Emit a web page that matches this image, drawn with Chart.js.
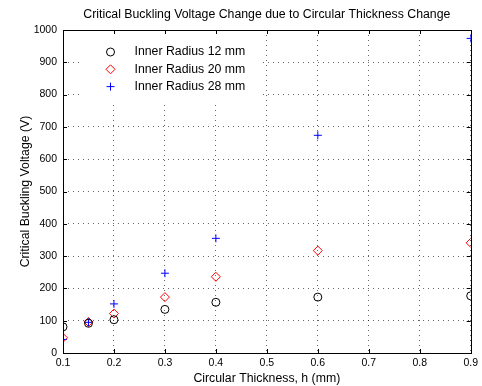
<!DOCTYPE html>
<html>
<head>
<meta charset="utf-8">
<script src="https://cdn.jsdelivr.net/npm/chart.js@4.4.0/dist/chart.umd.min.js"></script>
<style>
  html, body { margin: 0; padding: 0; background: #fff; }
  #wrap { width: 482px; height: 386px; }
</style>
</head>
<body>
<div id="wrap"><canvas id="buckling" width="482" height="386"></canvas></div>
<script>
// Data
const thickness = [0.1, 0.15, 0.2, 0.3, 0.4, 0.6, 0.9];
const radius12 = [81, 92, 103, 135, 157, 173, 177];
const radius20 = [47, 96, 122, 173, 236, 317, 341];
const radius28 = [42, 95, 152, 247, 355, 674, 974];
const seriesNames = ['Inner Radius 12 mm', 'Inner Radius 20 mm', 'Inner Radius 28 mm'];
const xTicks = [0.1, 0.2, 0.3, 0.4, 0.5, 0.6, 0.7, 0.8, 0.9];
const yTicks = [0, 100, 200, 300, 400, 500, 600, 700, 800, 900, 1000];
const chartTitle = 'Critical Buckling Voltage Change due to Circular Thickness Change';

const FONT = 'Liberation Sans, Arial, Helvetica, sans-serif';
const LABEL_SIZE = 12.3;
const TICK_SIZE = 10.5;
Chart.defaults.font.family = FONT;
Chart.defaults.font.size = TICK_SIZE;
Chart.defaults.color = '#000';

function toPoints(ys) {
    return thickness.map((x, i) => ({ x: x, y: ys[i] }));
}

// white background + title centred over the axes
const frame = {
    id: 'frame',
    beforeDraw(chart) {
        const c = chart.ctx;
        c.save();
        c.fillStyle = '#fff';
        c.fillRect(0, 0, chart.width, chart.height);
        c.restore();
    },
    afterDraw(chart) {
        const c = chart.ctx;
        const a = chart.chartArea;
        c.save();
        c.font = LABEL_SIZE + 'px ' + FONT;
        c.fillStyle = '#000';
        c.textAlign = 'center';
        c.textBaseline = 'middle';
        c.fillText(chartTitle, (a.left + a.right) / 2, 14.5);
        c.restore();
    }
};

// MATLAB-like box with inward ticks on all four sides
const axesBox = {
    id: 'axesBox',
    afterDatasetsDraw(chart) {
        const c = chart.ctx;
        const a = chart.chartArea;
        const xs = chart.scales.x, ys = chart.scales.y;
        const len = 4;
        c.save();
        c.strokeStyle = '#000';
        c.lineWidth = 1;
        c.beginPath();
        xTicks.forEach(v => {
            const px = Math.round(xs.getPixelForValue(v)) + 0.5;
            c.moveTo(px, a.bottom); c.lineTo(px, a.bottom - len);
            c.moveTo(px, a.top); c.lineTo(px, a.top + len);
        });
        yTicks.forEach(v => {
            const py = Math.round(ys.getPixelForValue(v)) + 0.5;
            c.moveTo(a.left, py); c.lineTo(a.left + len, py);
            c.moveTo(a.right, py); c.lineTo(a.right - len, py);
        });
        c.stroke();
        c.strokeRect(Math.round(a.left) + 0.5, Math.round(a.top) + 0.5,
            Math.round(a.right - a.left), Math.round(a.bottom - a.top));
        c.restore();
    }
};

// legend inside the axes, white box without frame
const insideLegend = {
    id: 'insideLegend',
    afterDraw(chart) {
        const c = chart.ctx;
        const mx = 110.5, tx = 134.5, y0 = 52, dy = 17.3;
        c.save();
        c.fillStyle = '#fff';
        c.fillRect(83, 35, 180, 66);
        c.font = LABEL_SIZE + 'px ' + FONT;
        c.textBaseline = 'middle';
        chart.data.datasets.forEach((ds, i) => {
            const y = y0 + i * dy;
            c.strokeStyle = ds.borderColor;
            c.fillStyle = 'rgba(0,0,0,0)';
            c.lineWidth = 1;
            Chart.helpers.drawPoint(c, {
                pointStyle: ds.pointStyle,
                radius: ds.pointRadius,
                borderWidth: 1
            }, mx, y);
            c.fillStyle = '#000';
            c.fillText(ds.label, tx, y);
        });
        c.restore();
    }
};

const gridOpts = {
    color: 'rgba(0,0,0,0.6)',
    lineWidth: 1,
    drawTicks: false
};

new Chart(document.getElementById('buckling'), {
    type: 'scatter',
    data: {
        datasets: [
            {
                label: seriesNames[0],
                data: toPoints(radius12),
                pointStyle: 'circle',
                pointRadius: 4,
                borderColor: '#000000',
                backgroundColor: 'rgba(0,0,0,0)',
                borderWidth: 1
            },
            {
                label: seriesNames[1],
                data: toPoints(radius20),
                pointStyle: 'rectRot',
                pointRadius: 4.5,
                borderColor: '#ff0000',
                backgroundColor: 'rgba(0,0,0,0)',
                borderWidth: 1
            },
            {
                label: seriesNames[2],
                data: toPoints(radius28),
                pointStyle: 'cross',
                pointRadius: 4,
                borderColor: '#0000ff',
                backgroundColor: 'rgba(0,0,0,0)',
                borderWidth: 1
            }
        ]
    },
    options: {
        responsive: false,
        animation: false,
        layout: {
            autoPadding: false,
            padding: { left: 0, right: 8, top: 30, bottom: 0 }
        },
        plugins: {
            legend: { display: false },
            tooltip: { enabled: false },
            title: { display: false }
        },
        scales: {
            x: {
                type: 'linear',
                min: 0.1,
                max: 0.9,
                afterBuildTicks: s => { s.ticks = xTicks.map(v => ({ value: v })); },
                afterFit: s => { s.height = 33; },
                border: { display: false, dash: [1, 4] },
                grid: gridOpts,
                ticks: {
                    padding: 4,
                    maxRotation: 0,
                    callback: v => v.toFixed(1)
                },
                title: {
                    display: true,
                    text: 'Circular Thickness, h (mm)',
                    font: { size: LABEL_SIZE },
                    padding: { top: 0, bottom: 0.5 }
                }
            },
            y: {
                type: 'linear',
                min: 0,
                max: 1000,
                afterBuildTicks: s => { s.ticks = yTicks.map(v => ({ value: v })); },
                afterFit: s => { s.width = 63; },
                border: { display: false, dash: [1, 4] },
                grid: gridOpts,
                ticks: {
                    padding: 6,
                    callback: v => String(v)
                },
                title: {
                    display: true,
                    text: 'Critical Buckling Voltage (V)',
                    font: { size: LABEL_SIZE },
                    padding: { top: 18, bottom: 0 }
                }
            }
        }
    },
    plugins: [frame, axesBox, insideLegend]
});
</script>
</body>
</html>
